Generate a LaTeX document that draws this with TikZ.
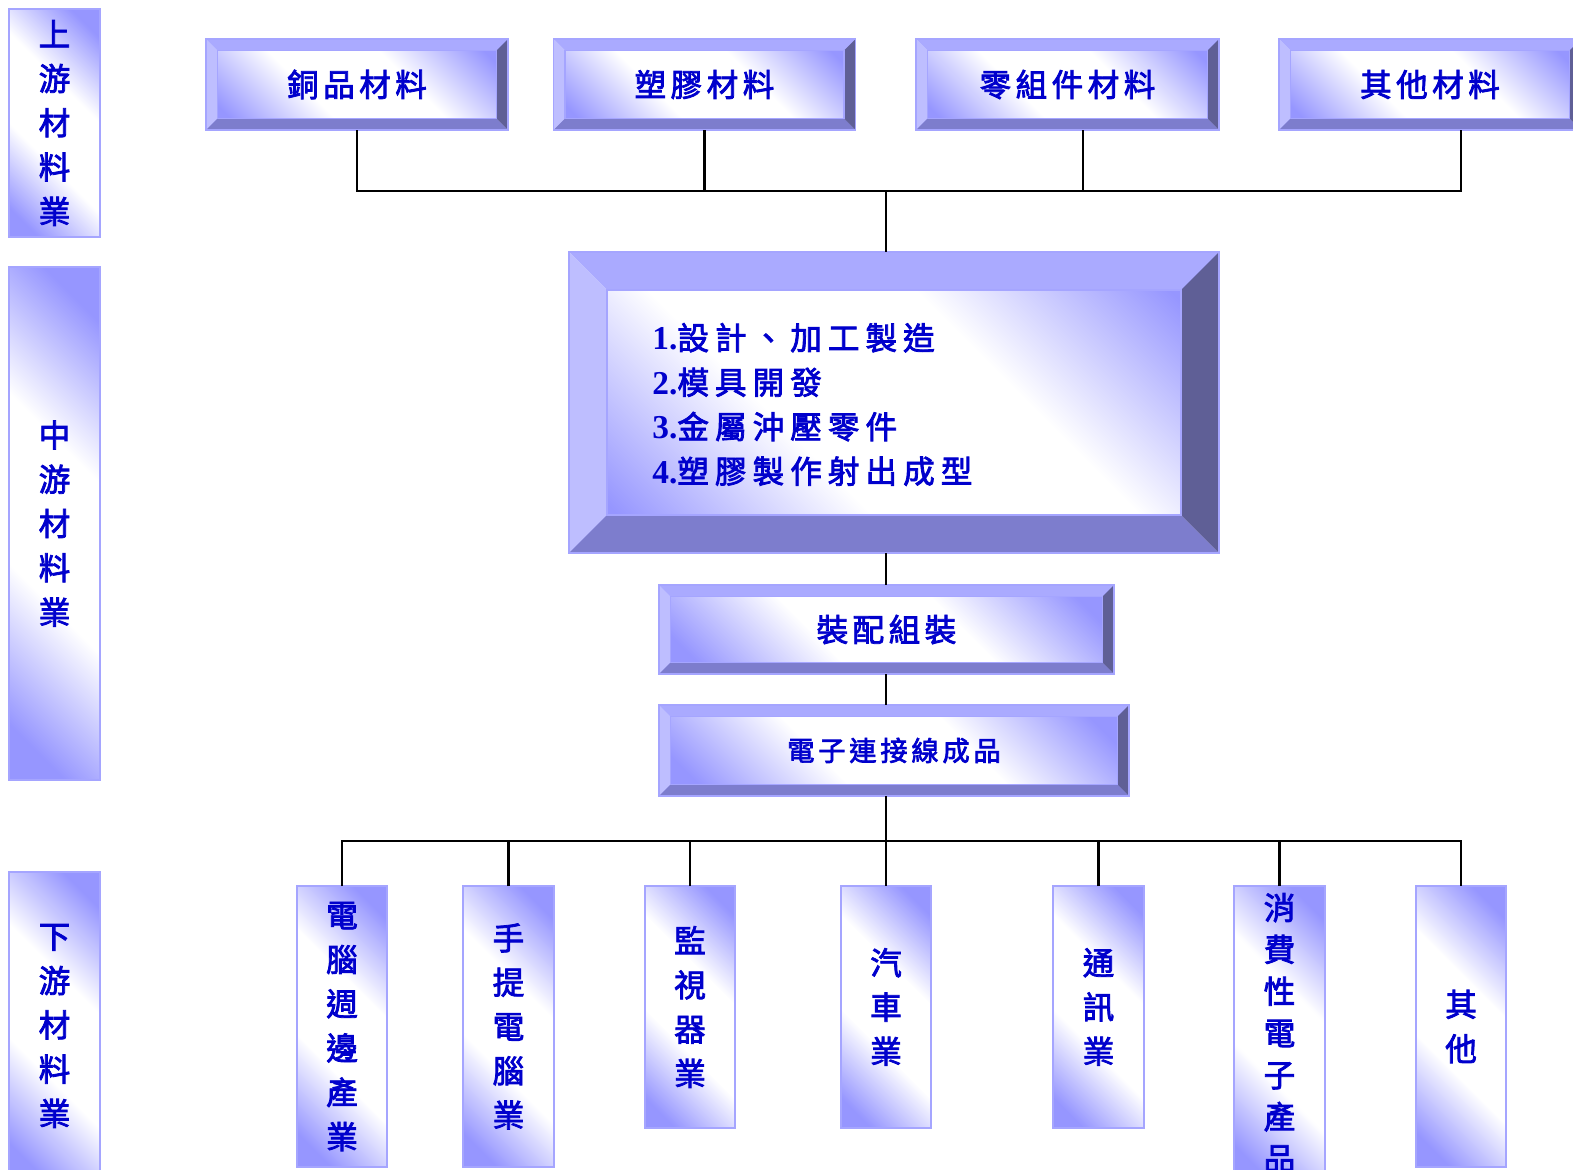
\documentclass[tikz,border=0pt]{standalone}
\usepackage{fontspec}
\usepackage{tikz}
\newfontfamily\cjk[FakeBold=2.5]{Noto Sans CJK TC}
\newfontfamily\cjksp[FakeBold=2.5,LetterSpace=14]{Noto Sans CJK TC}
\newfontfamily\cjklist[FakeBold=2.5,LetterSpace=19]{Noto Sans CJK TC}
\newfontfamily\numfont{Liberation Serif}
\newcommand\nm[1]{{\numfont\bfseries\fontsize{19pt}{25.3pt}\selectfont #1}}

\definecolor{facebl}{RGB}{150,150,255}
\definecolor{edgebl}{RGB}{165,165,255}
\definecolor{bvtop}{RGB}{170,170,255}
\definecolor{bvleft}{RGB}{190,190,255}
\definecolor{bvbot}{RGB}{125,125,205}
\definecolor{bvright}{RGB}{95,95,150}
\definecolor{txtbl}{RGB}{0,0,204}

\pgfdeclarehorizontalshading{facesh}{100bp}{color(0bp)=(facebl); color(21bp)=(facebl);
	color(40bp)=(white); color(60bp)=(white); color(79bp)=(facebl); color(100bp)=(facebl)}

\tikzset{
	face/.style={shading=facesh, shading angle=45,
		draw=edgebl, line width=0.9pt, inner sep=0pt, outer sep=0pt, text=txtbl},
	sz/.style 2 args={minimum width=#1*0.02cm, minimum height=#2*0.02cm},
	bevelbox/.style={face, path picture={
		\path (path picture bounding box.north west) coordinate (bA)
			(path picture bounding box.north east) coordinate (bB)
			(path picture bounding box.south east) coordinate (bC)
			(path picture bounding box.south west) coordinate (bD);
		\path ([xshift=#1,yshift=-#1]bA) coordinate (iA)
			([xshift=-#1,yshift=-#1]bB) coordinate (iB)
			([xshift=-#1,yshift=#1]bC) coordinate (iC)
			([xshift=#1,yshift=#1]bD) coordinate (iD);
		\fill[bvtop] (bA) -- (bB) -- (iB) -- (iA) -- cycle;
		\fill[bvleft] (bA) -- (iA) -- (iD) -- (bD) -- cycle;
		\fill[bvbot] (bD) -- (iD) -- (iC) -- (bC) -- cycle;
		\fill[bvright] (bB) -- (bC) -- (iC) -- (iB) -- cycle;
		\draw[edgebl, line width=0.6pt] (iA) rectangle (iC);
	}},
	conn/.style={line width=1.4pt},
	toptext/.style={font=\cjksp\fontsize{18pt}{22pt}\selectfont},
	listtext/.style={align=left, text=txtbl, inner sep=0pt, font=\cjklist\fontsize{18pt}{25.3pt}\selectfont},
	vtext/.style={align=center, font=\cjk\fontsize{18pt}{25.2pt}\selectfont},
}

\begin{document}
\begin{tikzpicture}[x=0.02cm, y=-0.02cm]
	\useasboundingbox (0,0) rectangle (1573,1170);
	\clip (0,0) rectangle (1573,1170);

	% side labels
	\node[face, sz={91}{228}, vtext] (up) at (54.5,123) {上\\游\\材\\料\\業};
	\node[face, sz={91}{513}, vtext] (mid) at (54.5,523.5) {中\\游\\材\\料\\業};
	\node[face, sz={91}{308}, vtext] (low) at (54.5,1026) {下\\游\\材\\料\\業};

	% materials
	\node[bevelbox=0.23cm, sz={302}{91}, toptext] (cu) at (357,84.5) {銅品材料};
	\node[bevelbox=0.23cm, sz={302}{91}, toptext] (pl) at (704.5,84.5) {塑膠材料};
	\node[bevelbox=0.23cm, sz={303}{91}, toptext] (pt) at (1067.5,84.5) {零組件材料};
	\node[bevelbox=0.23cm, sz={302}{91}, toptext] (ot) at (1430,84.5) {其他材料};

	% process
	\node[bevelbox=0.76cm, sz={650}{301}] (proc) at (894,402.5) {};
	\node[listtext, anchor=west] (steps) at ([xshift=1.66cm,yshift=-0.04cm]proc.west)
		{\nm{1.}設計、加工製造\\\nm{2.}模具開發\\\nm{3.}金屬沖壓零件\\\nm{4.}塑膠製作射出成型};
	\node[bevelbox=0.23cm, sz={455}{89}, toptext] (asm) at (886.5,629.5) {裝配組裝};
	\node[bevelbox=0.23cm, sz={470}{91}, font=\cjksp\fontsize{15.5pt}{18pt}\selectfont] (prod) at (894,750.5) {電子連接線成品};

	% markets
	\node[face, sz={90}{281}, vtext] (pc) at (342,1026.5) {電\\腦\\週\\邊\\產\\業};
	\node[face, sz={91}{281}, vtext] (nb) at (508.5,1026.5) {手\\提\\電\\腦\\業};
	\node[face, sz={90}{242}, vtext] (mon) at (690,1007) {監\\視\\器\\業};
	\node[face, sz={90}{242}, vtext] (car) at (886,1007) {汽\\車\\業};
	\node[face, sz={91}{242}, vtext] (com) at (1098.5,1007) {通\\訊\\業};
	\node[face, sz={91}{294}, vtext, font=\cjk\fontsize{18pt}{23.8pt}\selectfont] (ce) at (1279.5,1033) {消\\費\\性\\電\\子\\產\\品};
	\node[face, sz={90}{281}, vtext] (oth) at (1461,1026.5) {其\\他};

	% connectors
	\coordinate (topbus) at (886,191);
	\coordinate (ptj) at ([xshift=0.31cm]pt.south);
	\coordinate (otj) at ([xshift=0.62cm]ot.south);
	\draw[conn] (cu.south) |- (topbus) -| (otj);
	\draw[conn] (pl.south) -- (pl.south |- topbus);
	\draw[conn] (ptj) -- (ptj |- topbus);
	\draw[conn] (topbus) -- (topbus |- proc.north);
	\draw[conn] (topbus |- proc.south) -- (topbus |- asm.north);
	\draw[conn] (topbus |- asm.south) -- (topbus |- prod.north);
	\coordinate (botbus) at (886,841);
	\draw[conn] (botbus |- prod.south) -- (car.north);
	\draw[conn] (pc.north) |- (botbus) -| (oth.north);
	\foreach \b in {nb,mon,com,ce}
		\draw[conn] (\b.north) -- (\b.north |- botbus);
\end{tikzpicture}
\end{document}
